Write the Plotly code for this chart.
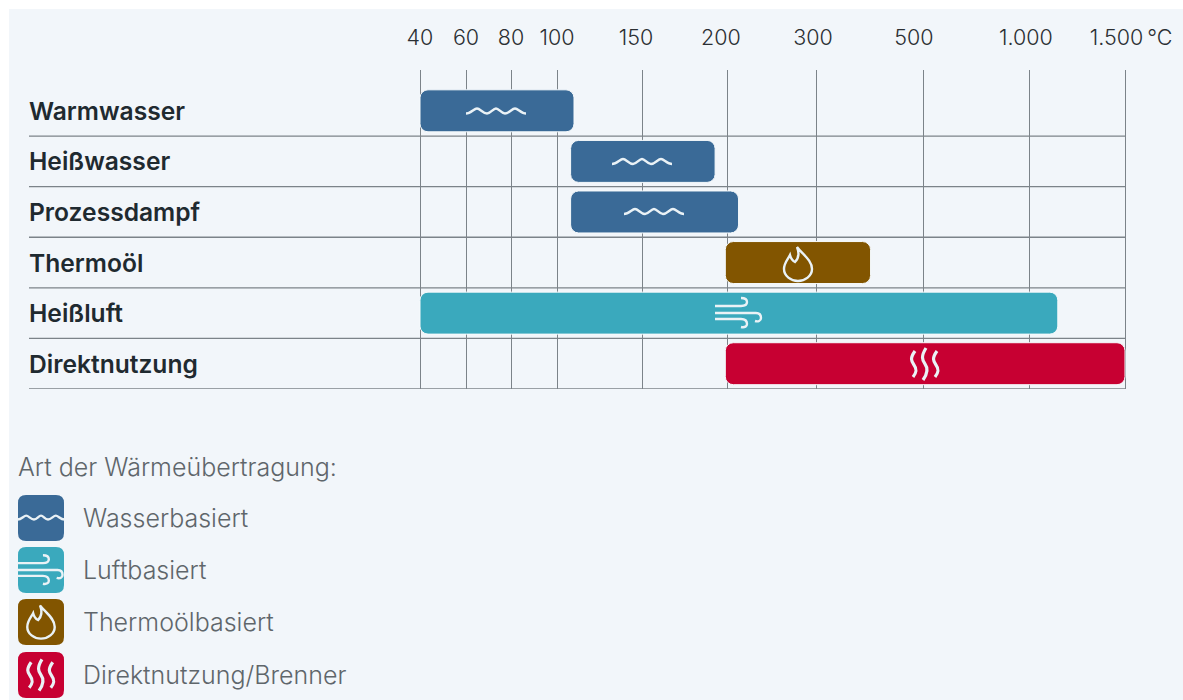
import re
import plotly.graph_objects as go

W, H = 1183, 700

# ---- data ----
categories = ["Warmwasser", "Heißwasser", "Prozessdampf", "Thermoöl", "Heißluft", "Direktnutzung"]
range_low = [40, 108, 108, 199, 40, 199]
range_high = [110, 193, 213, 402, 1150, 1500]
heat_type = ["Wasserbasiert", "Wasserbasiert", "Wasserbasiert", "Thermoölbasiert", "Luftbasiert", "Direktnutzung/Brenner"]
legend_order = ["Wasserbasiert", "Luftbasiert", "Thermoölbasiert", "Direktnutzung/Brenner"]
legend_title = "Art der Wärmeübertragung:"
tick_temps = [40, 60, 80, 100, 150, 200, 300, 500, 1000, 1500]
tick_labels = ["40", "60", "80", "100", "150\u00a0\u00a0", "200\u00a0\u00a0", "300\u00a0", "500\u00a0\u00a0\u00a0",
               "1.000\u00a0", "\u00a0\u00a01.500\u2009°C"]
# the printed scale is irregular: relative position of each tick along the axis
tick_stops = [0, 46, 91, 137, 222, 307, 396, 503, 609, 705]

colors = {"Wasserbasiert": "#3A6A97", "Luftbasiert": "#3AA9BD",
          "Thermoölbasiert": "#825500", "Direktnutzung/Brenner": "#C70032"}
BG = "#F2F6FA"
LINE = "#7C8389"
ICON = "#EAF2F6"
FONT = "Inter"


def scale(t):
    for i in range(len(tick_temps) - 1):
        a, b = tick_temps[i], tick_temps[i + 1]
        if t < a:
            return tick_stops[i] - (a - t) / (tick_temps[i + 1] - a) * (tick_stops[i + 1] - tick_stops[i])
        if a <= t <= b:
            return tick_stops[i] + (t - a) / (b - a) * (tick_stops[i + 1] - tick_stops[i])
    return tick_stops[-1]


WAVE = ("M-30,2 C-25,2 -22,-3 -19,-3 C-16,-3 -13,2 -9,2 C-5,2 -3,-3 0,-3 "
        "C3,-3 5,2 9,2 C13,2 16,-3 19,-3 C22,-3 25,2 30,2")
FLAME = ("M-1,-17 C4,-10 14,-4 14,5 C14,12 7,17 0,17 C-7,17 -14,12 -14,5 "
         "C-14,-1 -10,-5 -8,-9 C-7,-5 -5,-3 -3,-2 C1,-6 1,-12 -1,-17 Z")
WIND = ("M-23,-7 L3,-7 C8,-7 9,-9 9,-11 C9,-14 6,-15 3,-15 "
        "M-23,0 L18,0 C22,0 23,3 23,5 C23,8 20,9 17,8 "
        "M-23,6 L3,6 C8,6 9,9 9,11 C9,13 7,15 3,14")
STEAM = ("M-10,-13 C-15,-6 -14,-3 -11,1 C-8,5 -8,8 -12,13 "
         "M1,-16 C-4,-8 -3,-4 0,0 C3,4 3,9 -2,16 "
         "M12,-13 C7,-6 8,-3 11,1 C14,5 14,8 10,13")
ROUND = "M-23,-15 Q-23,-23 -15,-23 L15,-23 Q23,-23 23,-15 L23,15 Q23,23 15,23 L-15,23 Q-23,23 -23,15 Z"
GLYPH = {"Wasserbasiert": WAVE, "Luftbasiert": WIND, "Thermoölbasiert": FLAME, "Direktnutzung/Brenner": STEAM}
GLYPH_WIDTH = {"Wasserbasiert": 2.4, "Luftbasiert": 2.4, "Thermoölbasiert": 2.4, "Direktnutzung/Brenner": 3.2}


def place(path, cx, cy, k=1.0):
    """Move an icon outline to a pixel location, expressed in paper coordinates."""
    def rep(m):
        x, y = float(m.group(1)), float(m.group(2))
        return f"{(cx + k * x) / W:.5f},{1 - (cy + k * y) / H:.5f}"
    return re.sub(r"(-?\d+\.?\d*),(-?\d+\.?\d*)", rep, path)


def icon(path, cx, cy, k=1.0, color=ICON, width=2.4, fill=None):
    return dict(type="path", path=place(path, cx, cy, k), xref="paper", yref="paper",
                line=dict(color=color, width=width), fillcolor=fill, layer="above")


fig = go.Figure()
for kind in legend_order:
    idx = [i for i, h in enumerate(heat_type) if h == kind]
    fig.add_trace(go.Bar(
        name=kind, orientation="h",
        y=[categories[i] for i in idx],
        base=[scale(range_low[i]) for i in idx],
        x=[scale(range_high[i]) - scale(range_low[i]) for i in idx],
        width=0.83,
        marker=dict(color=colors[kind], cornerradius=8, line=dict(color="#F6FAFC", width=1)),
        showlegend=False, hoverinfo="y+name",
    ))

shapes = [dict(type="rect", xref="paper", yref="paper", x0=9 / W, x1=1, y0=0, y1=1 - 9 / H,
               fillcolor=BG, line_width=0, layer="below")]
for i in range(len(categories)):
    shapes.append(dict(type="line", xref="paper", yref="y", x0=29 / W, x1=1125 / W, y0=i + 0.5, y1=i + 0.5,
                       line=dict(color=LINE, width=1.3), layer="below"))

# icons on the bars
bar_icons = [("Wasserbasiert", 496, 111.5), ("Wasserbasiert", 642, 162), ("Wasserbasiert", 654, 212),
             ("Thermoölbasiert", 798, 264), ("Luftbasiert", 738, 313), ("Direktnutzung/Brenner", 925, 364)]
for kind, cx, cy in bar_icons:
    shapes.append(icon(GLYPH[kind], cx, cy, width=GLYPH_WIDTH[kind]))

# legend icons
legend_y = [518, 570, 622, 675]
annotations = []
for kind, cy in zip(legend_order, legend_y):
    shapes.append(icon(ROUND, 41, cy, 1.0, colors[kind], 0, colors[kind]))
    k = 0.78 if kind == "Wasserbasiert" else 0.98
    shapes.append(icon(GLYPH[kind], 41 if kind != "Luftbasiert" else 40, cy, k, width=GLYPH_WIDTH[kind]))
    annotations.append(dict(text=kind, xref="paper", yref="paper", x=83 / W, y=1 - cy / H, xanchor="left",
                            yanchor="middle", showarrow=False, xshift=-2,
                            font=dict(family=FONT, size=25, weight=300, color="#5F666B")))
annotations.append(dict(text=legend_title, xref="paper", yref="paper", x=18 / W, y=1 - 467 / H, xanchor="left",
                        yanchor="middle", showarrow=False, xshift=-2,
                        font=dict(family=FONT, size=25, weight=300, color="#5F666B")))
for i, c in enumerate(categories):
    annotations.append(dict(text=c, xref="paper", yref="y", x=29 / W, y=i, xanchor="left",
                            yanchor="middle", showarrow=False, xshift=-2,
                            font=dict(family=FONT, size=24.6, weight=600, color="#1F2A30")))

fig.update_layout(
    width=W, height=H, margin=dict(l=0, r=0, t=0, b=0, pad=0),
    paper_bgcolor="#FFFFFF", plot_bgcolor="rgba(0,0,0,0)",
    barmode="overlay", showlegend=False, shapes=shapes, annotations=annotations,
    font=dict(family=FONT, color="#2B2F33"), hovermode="closest",
    xaxis=dict(domain=[417 / W, 1128 / W], range=[-3, 708], side="top", anchor="y", automargin=False,
               tickmode="array", tickvals=[scale(t) for t in tick_temps], ticktext=tick_labels,
               showgrid=True, gridcolor=LINE, gridwidth=1.3, zeroline=False, showline=False,
               ticks="outside", ticklen=15, tickcolor="rgba(0,0,0,0)",
               tickfont=dict(size=21.5, weight=300, color="#2B2F33")),
    yaxis=dict(domain=[1 - 389 / H, 1 - 70 / H], range=[5.5, -0.5 - 15.5 / 50.5], type="category", automargin=False,
               categoryorder="array", categoryarray=categories, showticklabels=False, showgrid=False,
               zeroline=False, showline=False, ticks=""),
)

fig.write_html("out.html", post_script="document.body.style.margin='0';", config={"displayModeBar": False})
